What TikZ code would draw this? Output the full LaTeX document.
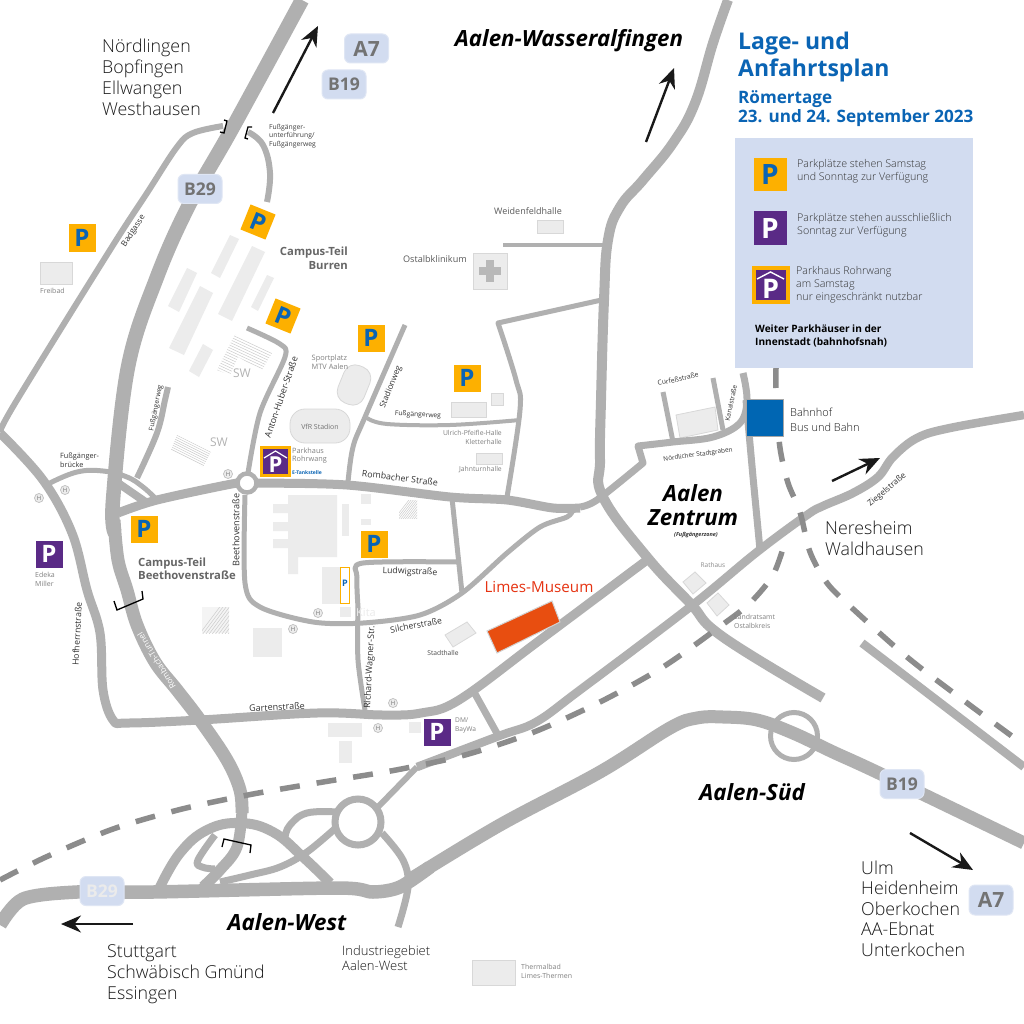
\documentclass[tikz,border=0pt]{standalone}
\usepackage{fontspec}
\setmainfont{Open Sans}
\newfontfamily\oslight{Open Sans Light}
\usetikzlibrary{arrows.meta,calc}
\definecolor{roadc}{HTML}{B0B0B0}
\definecolor{railc}{HTML}{8C8C8C}
\definecolor{yellowP}{HTML}{FDB000}
\definecolor{blueP}{HTML}{0A64B4}
\definecolor{purpleP}{HTML}{5A2A86}
\definecolor{panel}{HTML}{D2DCF0}
\definecolor{bldg}{HTML}{ECECEC}
\definecolor{bldgline}{HTML}{D8D8D8}
\definecolor{titleblue}{HTML}{0A64B4}
\definecolor{museum}{HTML}{E84E10}
\definecolor{bahn}{HTML}{0066B3}
\definecolor{limes}{HTML}{E63312}
\newcommand{\fs}[2]{\fontsize{#1}{#2}\selectfont}
\tikzset{
  road/.style={draw=roadc,line width=#1,line cap=butt,line join=round},
  road/.default=5,
  rail/.style={draw=railc,line width=5.5,dash pattern=on 20 off 17},
  bld/.style={fill=bldg,draw=none},
  bldl/.style={fill=bldg,draw=bldgline,line width=.8},
  hatchline/.style={draw=black!20,line width=.5},
  pY/.style={minimum size=#1,inner sep=0,outer sep=0,text height=17.2,text depth=0,fill=yellowP,text=blueP,font=\bfseries\fs{24}{24}},
  pY/.default=27,
  pV/.style={minimum size=#1,inner sep=0,outer sep=0,text height=17.2,text depth=0,fill=purpleP,text=white,font=\bfseries\fs{24}{24}},
  pV/.default=27,
  shieldbox/.style={fill=panel,draw=panel!70!white,line width=1,rounded corners=6,inner sep=0,minimum width=44,minimum height=29,text=black!55,font=\bfseries\fs{17.5}{17.5}},
  city/.style={anchor=west,align=left,inner sep=0,text=black!90,font=\oslight\fs{17.8}{20.8}},
  district/.style={inner sep=0,align=center,font=\bfseries\itshape\fs{22.3}{24}},
  street/.style={inner sep=0,text=black!80,font=\fs{8.8}{10}},
  small/.style={inner sep=0,align=left,anchor=west,text=black!50,font=\fs{7}{8.8}},
  arrowblk/.style={draw=black!90,line width=2.4,-{Stealth[length=20,width=17]}},
  bracket/.style={draw=black,line width=1.3},
  hstop/.style={circle,fill=bldg,draw=black!25,line width=.7,minimum size=9,inner sep=0,text=black!55,font=\fs{6}{6}},
  legendtext/.style={inner sep=0,align=left,anchor=west,text=black!80,font=\oslight\fs{10.65}{13}},
}
\begin{document}
\begin{tikzpicture}[x=1pt,y=-1pt]
\useasboundingbox (0,0) rectangle (1024,1024);
\fill[white] (0,0) rectangle (1024,1024);

% ----- buildings -----
\fill[bldg] (230,235)--(239,239)--(220,278)--(211,273)--cycle;
\fill[bldg] (252,246)--(265,252)--(232,321)--(218,314)--cycle;
\fill[bldg] (187,268)--(197,273)--(179,312)--(168,306)--cycle;
\fill[bldg] (200,286)--(213,293)--(184,355)--(169,348)--cycle;
\fill[bldg] (267,275)--(274,278)--(258,311)--(251,307)--cycle;
\fill[bldg] (203,344)--(213,350)--(199,377)--(189,371)--cycle;
\fill[bldg] (288,495)--(337,495)--(337,557)--(298,557)--(298,574)--(288,574)--(288,548)--(273,548)--(273,539)--(288,539)--(288,531)--(273,531)--(273,522)--(288,522)--(288,513)--(273,513)--(273,504)--(288,504)--cycle;
\fill[bldg] (342,504) rectangle (349,536);
\fill[bldg] (361,494) rectangle (371,504);
\fill[bldg] (361,519) rectangle (371,525);
\fill[bldg] (322,567) rectangle (340,604);
\fill[bldg] (340,607) rectangle (351,617);
\fill[bldg] (253,628) rectangle (282,657);
\fill[bldg] (328,723) rectangle (362,737);
\fill[bldg] (339,741) rectangle (352,763);
\fill[bldg] (409,722) rectangle (421,733);
\path[bldl] (40,262) rectangle (72,284);
\path[bldl] (537,220) rectangle (563,233);
\path[bldl] (451,402) rectangle (486,417);
\path[bldl] (491,393) rectangle (503,405);
\path[bldl] (476,453) rectangle (502,464);
\path[bldl] (445,635)--(467,622)--(476,633)--(453,647)--cycle;
\path[bldl] (676,415)--(715,407)--(718,430)--(680,438)--cycle;
\path[bldl] (683,582)--(695,572)--(706,583)--(693,594)--cycle;
\path[bldl] (707,603)--(718,593)--(729,605)--(717,616)--cycle;
\path[bldl] (472,960) rectangle (515,985);
\path[bldl] (473,253) rectangle (507,289);
\fill[black!28] (486,260) rectangle (494,282);
\fill[black!28] (479,267) rectangle (501,275);
\node[bldl,rounded corners=15,minimum width=60,minimum height=34,inner sep=0] (stadion) at (320,426) {};
\node[bldl,rounded corners=12,minimum width=28,minimum height=40,inner sep=0,rotate=-22] (sport) at (354,385) {};

% hatches
\begin{scope}
\clip (235,334)--(272,353)--(262,370)--(238,357)--(230,375)--(217,370)--cycle;
\foreach \i in {-8,...,18}{\draw[hatchline] (200,{320+\i*2.8}) -- (290,{362+\i*2.8});}
\end{scope}
\begin{scope}
\clip (177,435)--(211,452)--(203,467)--(171,450)--cycle;
\foreach \i in {-4,...,14}{\draw[hatchline] (160,{422+\i*2.4}) -- (220,{452+\i*2.4});}
\end{scope}
\fill[bldg!60] (202,607) rectangle (229,633);
\begin{scope}
\clip (202,607) rectangle (229,633);
\foreach \i in {0,...,18}{\draw[hatchline] ({195+\i*3.2},640) -- ({225+\i*3.2},600);}
\end{scope}
\begin{scope}
\clip (399,500) rectangle (417,518);
\foreach \i in {0,...,16}{\draw[hatchline] ({392+\i*2.2},522) -- ({412+\i*2.2},496);}
\end{scope}

% ----- roads -----
\draw[road=6] plot[smooth,tension=.6] coordinates {(0,432)(17,400)(110,250)(147,193)(177,147)(193,133)(223,126)};
\draw[road=6] plot[smooth,tension=.7] coordinates {(248,132)(263,145)(270,173)(267,202)};
\draw[road=14.5] plot[smooth,tension=.6] coordinates {(302,0)(233,127)(190,203)(157,277)(128,367)(113,500)(115,533)};
\draw[road=13] plot[smooth,tension=.6] coordinates {(114,520)(118,560)(127,590)(137,625)(155,662)(177,690)(200,720)(227,760)(240,790)(242,813)};
\draw[road=11] plot[smooth,tension=.6] coordinates {(242,810)(237,847)(220,870)(203,887)};
\draw[road=9] plot[smooth,tension=.6] coordinates {(0,433)(43,480)(72,533)(87,590)(100,633)(103,690)(113,720)(128,723)(200,720)(317,713)(383,715)(421,713)(459,700)(540,640)(647,560)};
\draw[road=5] plot[smooth,tension=.7] coordinates {(50,483)(77,472)(103,471)(127,477)(143,487)(155,498)};
\draw[road=6] plot[smooth,tension=.6] coordinates {(168,387)(165,400)(157,433)(137,478)};
\draw[road=8] (118,483)--(147,503);
\draw[road=9] plot[smooth,tension=.5] coordinates {(118,513)(157,500)(237,483)(255,483)(347,485)(450,497)(507,500)(553,508)(580,508)};
\draw[road=7] plot[smooth,tension=.5] coordinates {(580,507)(597,500)(643,463)} -- (638,446) -- plot[smooth,tension=.6] coordinates {(638,446)(673,442)(713,437)(740,423)(747,400)(743,373)};
\draw[road=7] (746,400)--(753,477)--(760,550);
\draw[road=10] plot[smooth,tension=.7] coordinates {(728,0)(713,43)(695,103)(673,143)(643,180)(620,207)(608,240)(604,300)(601,400)(600,460)(603,497)(647,557)(690,603)(723,637)(823,698)};
\draw[road=4.5] (503,245)--(606,245);
\draw[road=5] (606,299)--(498,323) -- plot[smooth,tension=.6] coordinates {(498,323)(516,380)(520,410)(507,497)};
\draw[road=5] plot[smooth,tension=.6] coordinates {(405,325)(365,417)(353,447)(348,482)};
\draw[road=4] plot[smooth,tension=.6] coordinates {(367,418)(387,424)(450,425)(520,420)};
\draw[road=5] plot[smooth,tension=.5] coordinates {(247,328)(280,344)(285,357)(260,413)(248,473)};
\draw[road=5] plot[smooth,tension=.5] coordinates {(245,495)(245,583)(260,607)(313,622)(363,623)(420,615)(462,593)(507,553)(540,527)(567,517)(573,510)};
\draw[road=5] plot[smooth,tension=.5] coordinates {(358,607)(357,577)(363,563)(457,562)};
\draw[road=5] (452,498)--(462,593);
\draw[road=5] plot[smooth,tension=.5] coordinates {(358,607)(358,660)(365,710)};
\draw[road=5] (663,392)--(673,442);
\draw[road=5] (713,378)--(723,430);
\draw[road=8.5] plot[smooth,tension=.6] coordinates {(417,767)(499,736)(536,722)(580,690)(690,607)(757,552)(807,515)(823,506)(853,493)(878,477)(893,457)(917,438)(950,428)(1024,415)};
\draw[road=7] (474,692)--(499,737);
\draw[road=8.5] (862,643)--(1024,767);
\draw[road=13] plot[smooth,tension=.6] coordinates {(409,880)(500,825)(600,772)(670,728)(697,718)(723,717)(757,720)(793,733)(833,752)(883,775)(1024,843)};
\draw[road=13.5] plot[smooth,tension=.5] coordinates {(0,925)(23,899)(77,892)(153,892)(337,888)(373,892)(400,887)(430,867)};
\draw[road=10] plot[smooth,tension=.7] coordinates {(160,887)(180,853)(207,830)(240,823)(273,832)(303,857)(330,883)};
\draw[road=7] plot[smooth,tension=.7] coordinates {(215,835)(198,860)(202,867)(215,869)};
\draw[road=7] plot[smooth,tension=.6] coordinates {(220,882)(250,875)(280,867)(307,852)(338,826)};
\draw[road=7] plot[smooth,tension=.7] coordinates {(337,812)(307,813)(290,825)(285,837)};
\draw[road=6] (377,808)--(417,767);
\draw[road=7] plot[smooth,tension=.6] coordinates {(382,833)(403,860)(408,887)(398,927)};
\node[draw=roadc,line width=7,circle,fill=white,minimum size=46,inner sep=0] (rbwest) at (358,822) {};
\node[draw=roadc,line width=4.5,circle,fill=white,minimum size=19,inner sep=0] (rbrom) at (247,483) {};
\node[draw=roadc,line width=5,circle,minimum size=47,inner sep=0] (rbsued) at (794,736) {};

% ----- rail -----
\draw[rail] plot[smooth,tension=.5] coordinates {(0,880)(46,857)(113,829)(182,809)(253,794)(323,782)(396,770)(465,755)(534,732)(600,702)(663,667)(722,625)(750,603)(773,575)(785,542)};
\draw[rail] plot[smooth,tension=.5] coordinates {(776,368)(776,400)(780,448)(788,483)(800,512)(810,552)(827,583)(852,608)(907,657)(963,700)(1024,745)};

% ----- tunnel marks -----
\draw[bracket] (224,120)--(227,121)--(224,133)--(220,132);
\draw[bracket] (252,127)--(248,127)--(245,138)--(248,139);
\draw[bracket] (114,601)--(117,610)--(143,599)--(142,591);
\draw[bracket] (222,847)--(224,839)--(251,845)--(250,853);

% ----- Museum and station -----
\path[fill=museum,draw=black!18,line width=1] (487,631)--(552,601)--(560,622)--(497,653)--cycle;
\node[fill=bahn,draw=black!35,line width=1,minimum size=37,inner sep=0] (bahnhof) at (764.5,417.5) {};

% ----- Legend panel -----
\fill[panel] (735,138) rectangle (973,368);

% ----- P signs -----
\node[pY] (p1) at (82,238) {P};
\node[pY,rotate=-22] (p2) at (258,222) {P};
\node[pY,rotate=-22] (p3) at (283,316) {P};
\node[pY] (p4) at (371,338) {P};
\node[pY] (p5) at (467,378) {P};
\node[pY] (p6) at (144,529) {P};
\node[pY] (p7) at (374,544) {P};
\node[pV] (p8) at (49,554) {P};
\node[pV] (p9) at (437,732) {P};
\node[pY=33,font=\bfseries\fs{28}{28},text height=20] (lg1) at (770,175) {P};
\node[pV=33,font=\bfseries\fs{28}{28},text height=20] (lg2) at (770,228) {P};

\node[draw=yellowP,line width=3,fill=purpleP,minimum size=28,inner sep=0] (ph1) at (275.5,461) {};
\node[inner sep=0,text=white,font=\bfseries\fs{22}{22},text height=15.8,text depth=0] (ph1p) at (275.5,464.5) {P};
\draw[white,line width=1.2] (264,458)--(275.5,451)--(287,458);
\node[draw=yellowP,line width=3.5,fill=purpleP,minimum size=34,inner sep=0] (ph2) at (771,285) {};
\node[inner sep=0,text=white,font=\bfseries\fs{27}{27},text height=19.4,text depth=0] (ph2p) at (770.5,289) {P};
\draw[white,line width=1.4] (757,279)--(770.5,272)--(784,279);

\node[draw=yellowP,line width=1,fill=white,minimum width=9,minimum height=36,inner sep=0] (smallp) at (345,585) {};
\node[inner sep=0,text=blueP,font=\bfseries\fs{9}{9}] (smallpt) at (345,583) {P};

% ----- shields -----
\node[shieldbox,font=\bfseries\fs{21}{21}] (sA7a) at (366.5,48.5) {A7};
\node[shieldbox] (sB19a) at (344,84.5) {B19};
\node[shieldbox] (sB29a) at (200,189) {B29};
\node[shieldbox,text=black!8] (sB29b) at (102,891) {B29};
\node[shieldbox] (sB19b) at (902,784) {B19};
\node[shieldbox,minimum height=30,font=\bfseries\fs{21}{21}] (sA7b) at (991,900) {A7};

% ----- arrows -----
\coordinate (a1s) at (273,113); \coordinate (a1e) at (318,26);
\coordinate (a2s) at (646,142); \coordinate (a2e) at (674,68);
\coordinate (a3s) at (133,924); \coordinate (a3e) at (61,924);
\coordinate (a4s) at (832,481); \coordinate (a4e) at (880,458);
\coordinate (a5s) at (910,833); \coordinate (a5e) at (973,870);
\draw[arrowblk] (a1s)--(a1e);
\draw[arrowblk] (a2s)--(a2e);
\draw[arrowblk] (a3s)--(a3e);
\draw[arrowblk] (a4s)--(a4e);
\draw[arrowblk] (a5s)--(a5e);

% ----- stops -----
\foreach \n/\x/\y in {h1/228/474,h2/39/498,h3/65/490,h4/318/613,h5/293/629,h6/393/703,h7/378/728}{
  \node[hstop] (\n) at (\x,\y) {H};
}

% ----- cities -----
\node[city] (t1) at (102,77.5) {Nördlingen\\Bopfingen\\Ellwangen\\Westhausen};
\node[city] (t2) at (107,974) {Stuttgart\\Schwäbisch Gmünd\\Essingen};
\node[city,font=\oslight\fs{17.8}{20.5}] (t3) at (861,908.5) {Ulm\\Heidenheim\\Oberkochen\\AA-Ebnat\\Unterkochen};
\node[city] (t4) at (825,538.5) {Neresheim\\Waldhausen};
\node[city,font=\oslight\fs{13}{15}] (t5) at (342,958.5) {Industriegebiet\\Aalen-West};
\node[city,font=\oslight\fs{11}{15}] (t6) at (790,419.5) {Bahnhof\\Bus und Bahn};

% ----- districts -----
\node[district] (d1) at (569,41) {Aalen-Wasseralfingen};
\node[district] (d2) at (287,922) {Aalen-West};
\node[district] (d3) at (752,792) {Aalen-Süd};
\node[district] (d4) at (693,505) {Aalen\\Zentrum};
\node[inner sep=0,font=\bfseries\itshape\fs{5.5}{6},text=black!80] (d5) at (696,535) {(Fußgängerzone)};

% ----- title -----
\node[inner sep=0,align=left,anchor=north west,text=titleblue,font=\bfseries\fs{23}{27}] (ttl) at (738,32) {Lage- und\\Anfahrtsplan};
\node[inner sep=0,align=left,anchor=north west,text=titleblue,font=\bfseries\fs{17.1}{19.5}] (ttl2) at (738,90) {Römertage\\23. und 24. September 2023};

% ----- legend -----
\node[legendtext] (l1) at (797,171) {Parkplätze stehen Samstag\\und Sonntag zur Verfügung};
\node[legendtext] (l2) at (797,225) {Parkplätze stehen ausschließlich\\Sonntag zur Verfügung};
\node[legendtext] (l3) at (796,285) {Parkhaus Rohrwang\\am Samstag\\nur eingeschränkt nutzbar};
\node[inner sep=0,align=left,anchor=west,font=\bfseries\fs{10.1}{13}] (l4) at (755,335.5) {Weiter Parkhäuser in der\\Innenstadt (bahnhofsnah)};

% ----- street names -----
\node[street,rotate=57,font=\fs{8.2}{9}] (s1) at (133.5,231) {Badgasse};
\node[street,rotate=79,font=\fs{6.8}{8}] (s2) at (156,408) {Fußgängerweg};
\node[small,text=black!75,font=\fs{6.8}{8.6}] (s3) at (269,136) {Fußgänger-\\unterführung/\\Fußgängerweg};
\node[small,text=black!80,font=\fs{7.3}{8.5}] (s4) at (60,460) {Fußgänger-\\brücke};
\node[street,rotate=71,font=\fs{9}{10}] (s5) at (281,397) {Anton-Huber-Straße};
\node[street,rotate=68,font=\fs{8.2}{9}] (s6) at (391,387) {Stadionweg};
\node[street,rotate=-3,font=\fs{6.7}{8}] (s7) at (418,415) {Fußgängerweg};
\node[street,rotate=-7] (s8) at (400,478) {Rombacher Straße};
\node[street,rotate=-2,font=\fs{8.7}{9}] (s9) at (410,572) {Ludwigstraße};
\node[street,rotate=11,font=\fs{8.6}{9}] (s10) at (416,625) {Silcherstraße};
\node[street,rotate=90,font=\fs{9.1}{10}] (s11) at (236,530) {Beethovenstraße};
\node[street,rotate=3,font=\fs{9}{10}] (s12) at (277,707) {Gartenstraße};
\node[street,rotate=87,font=\fs{8.7}{9}] (s13) at (77,634) {Hofherrnstraße};
\node[street,rotate=87,font=\fs{8.9}{9}] (s14) at (370,667) {Richard-Wagner-Str.};
\node[street,rotate=122,text=white,font=\fs{8.2}{10}] (s15) at (156.5,661) {Rombach-Tunnel};
\node[street,rotate=12,font=\fs{6.8}{8}] (s16) at (678,379) {Curfeßstraße};
\node[street,rotate=78,font=\fs{6.6}{8}] (s17) at (731,403) {Kanalstraße};
\node[street,rotate=8,font=\fs{6.4}{8}] (s18) at (698,455) {Nördlicher Stadtgraben};
\node[street,rotate=40,font=\fs{8.3}{9}] (s19) at (887,490) {Ziegelstraße};

% ----- place labels -----
\node[inner sep=0,align=right,anchor=east,text=black!60,font=\bfseries\fs{11.3}{14}] (c1) at (348,258) {Campus-Teil\\Burren};
\node[inner sep=0,align=left,anchor=west,text=black!60,font=\bfseries\fs{11.3}{13}] (c2) at (138,568.5) {Campus-Teil\\Beethovenstraße};
\node[small] (n1) at (40,291) {Freibad};
\node[small,font=\fs{7.4}{8.5}] (n2) at (311.5,362) {Sportplatz\\MTV Aalen};
\node[small,anchor=east,text=black!65,font=\fs{9.1}{10}] (n3) at (467,259) {Ostalbklinikum};
\node[inner sep=0,text=black!65,font=\fs{9}{10}] (n4) at (528,211) {Weidenfeldhalle};
\node[inner sep=0,text=black!55,font=\fs{7}{8}] (n5) at (320,426.5) {VfR Stadion};
\node[small,font=\fs{7.3}{8.8}] (n6) at (292,455.5) {Parkhaus\\Rohrwang};
\node[small,text=blueP,font=\bfseries\fs{5}{6}] (n7) at (292,473) {E-Tankstelle};
\node[small] (n8) at (35,579) {Edeka\\Miller};
\node[inner sep=0,text=black!30,font=\fs{12}{12}] (n9) at (242,373) {SW};
\node[inner sep=0,text=black!30,font=\fs{12}{12}] (n10) at (219,442) {SW};
\node[small,align=right,anchor=east,font=\fs{6.8}{8.8}] (n11) at (502,437.5) {Ulrich-Pfeifle-Halle\\Kletterhalle};
\node[small,anchor=east,font=\fs{6.8}{9}] (n12) at (502,470) {Jahnturnhalle};
\node[inner sep=0,text=black!45,font=\fs{6.5}{8}] (n13) at (713,565) {Rathaus};
\node[small,font=\fs{6.9}{8.8}] (n14) at (734,621.5) {Landratsamt\\Ostalbkreis};
\node[inner sep=0,text=black!70,font=\fs{6.7}{8}] (n15) at (443,653) {Stadthalle};
\node[small,font=\fs{6.6}{8.8}] (n16) at (455,725.5) {DM/\\BayWa};
\node[small] (n17) at (521,971.5) {Thermalbad\\Limes-Thermen};
\node[inner sep=0,text=black!8,font=\fs{11}{11}] (n18) at (366,613) {Kita};
\node[inner sep=0,text=limes,font=\fs{15.2}{16}] (n19) at (539,587) {Limes-Museum};
\end{tikzpicture}
\end{document}
